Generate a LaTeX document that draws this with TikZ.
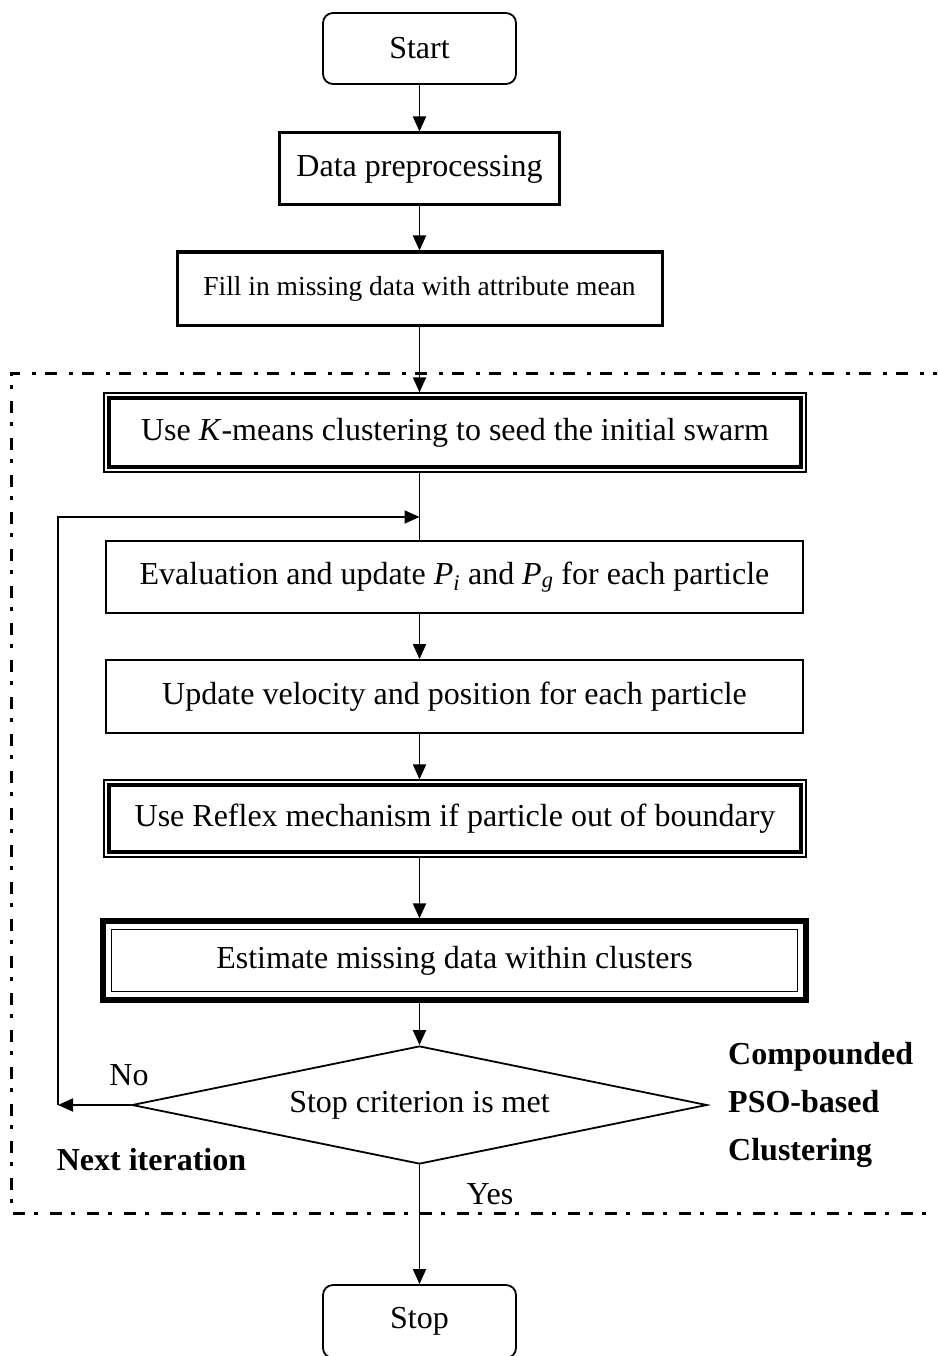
\documentclass[tikz,border=0pt]{standalone}
\usepackage{fontspec}
\setmainfont{Liberation Serif}
\usetikzlibrary{shapes.geometric,arrows.meta,calc}
\begin{document}
\begin{tikzpicture}[x=1pt,y=-1pt,
 every node/.style={font=\fontsize{32}{38}\selectfont, inner sep=0pt},
 boxthin/.style={draw, line width=1.8pt, rectangle},
 boxthick/.style={draw, line width=3pt, rectangle},
 boxouter/.style={draw, line width=1.2pt, rectangle},
 term/.style={draw, line width=1.8pt, rounded corners=10pt, rectangle},
 arr/.style={line width=1.8pt, -{Triangle[length=15pt,width=13pt]}},
 ln/.style={line width=1.8pt},
 dashdot/.style={line width=3pt, dash pattern=on 12pt off 9pt on 4pt off 12pt},
 lbl/.style={font=\bfseries\fontsize{32}{48}\selectfont, align=left}
]
\clip (0,0) rectangle (937,1356);

\node[term, minimum width=193, minimum height=71] (start) at (419.5,48.5) {Start};
\node[boxthick, minimum width=280, minimum height=72] (prep) at (419.5,169) {Data preprocessing};
\node[boxthick, minimum width=485, minimum height=73, font=\fontsize{27.5}{33}\selectfont] (fill) at (419.5,288.5) {Fill in missing data with attribute mean};

\node[boxouter, minimum width=702, minimum height=79] (kmeans) at (455,432.5) {Use \textit{K}-means clustering to seed the initial swarm};
\draw[line width=4.5pt] ($(kmeans.north west)+(5.5,5.5)$) rectangle ($(kmeans.south east)+(-5.5,-5.5)$);

\node[boxthin, minimum width=697, minimum height=72] (eval) at (454.5,577) {Evaluation and update \textit{P}\textsubscript{\textit{i}} and \textit{P}\textsubscript{\textit{g}} for each particle};
\node[boxthin, minimum width=697, minimum height=73] (upd) at (454.5,696.5) {Update velocity and position for each particle};

\node[boxouter, minimum width=702, minimum height=77] (refl) at (455,818.5) {Use Reflex mechanism if particle out of boundary};
\draw[line width=4.5pt] ($(refl.north west)+(5.5,5.5)$) rectangle ($(refl.south east)+(-5.5,-5.5)$);

\node[boxouter, minimum width=707, minimum height=83] (est) at (454.5,960.5) {Estimate missing data within clusters};
\draw[line width=4pt] ($(est.north west)+(4,4)$) rectangle ($(est.south east)+(-4,-4)$);
\draw[line width=1.5pt] ($(est.north west)+(11,11)$) rectangle ($(est.south east)+(-11,-11)$);

\node[draw, diamond, aspect=4.87, minimum width=575, minimum height=118, line width=1.8pt] (dia) at (419.5,1105) {Stop criterion is met};

\node[term, minimum width=193, minimum height=73] (stop) at (419.5,1321.5) {Stop};

\coordinate (j) at (419.5,517);
\coordinate (lc) at (58,1105);
\coordinate (lt) at (58,517);

\draw[arr] (start.south) -- (prep.north);
\draw[arr] (prep.south) -- (fill.north);
\draw[arr] (fill.south) -- (fill.south |- kmeans.north);
\draw[ln] (kmeans.south -| j) -- (eval.north -| j);
\draw[arr] (eval.south -| j) -- (upd.north -| j);
\draw[arr] (upd.south -| j) -- (refl.north -| j);
\draw[arr] (refl.south -| j) -- (est.north -| j);
\draw[arr] (est.south -| j) -- (dia.north);
\draw[arr] (dia.south) -- (stop.north);
\draw[arr] (dia.west) -- (lc);
\draw[arr] (lc) -- (lt) -- (j);

\draw[dashdot] (945,373) -- (11,373) -- (11,1213) -- (945,1213);

\node (no) at (129,1075) {No};
\node (yes) at (490,1194) {Yes};
\node[lbl] (next) at (151.5,1160) {Next iteration};
\node[lbl, anchor=west] (comp) at (728,1105) {Compounded\\PSO-based\\Clustering};
\end{tikzpicture}
\end{document}
